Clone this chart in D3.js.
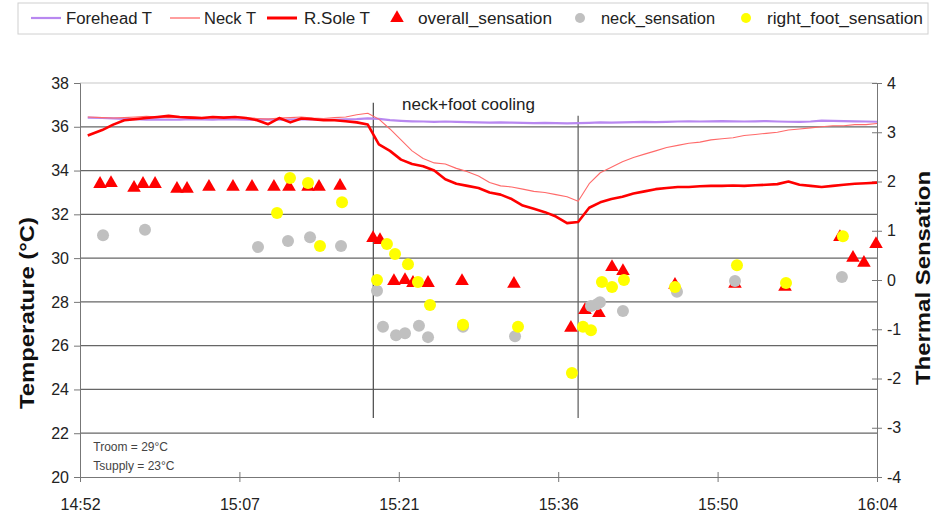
<!DOCTYPE html>
<html>
<head>
<meta charset="utf-8">
<script src="https://cdn.jsdelivr.net/npm/d3@7"></script>
<style>
  html, body { margin: 0; padding: 0; background: #fff; }
  svg { display: block; font-family: "Liberation Sans", Arial, sans-serif; }
</style>
</head>
<body>
<svg id="chart" width="938" height="519"></svg>
<script>
// ---- DATA (time in minutes after 14:52) ----
const xTickMinutes = [0, 14.4, 28.8, 43.2, 57.6, 72];
const xTickLabels = ["14:52", "15:07", "15:21", "15:36", "15:50", "16:04"];
const tempTicks = [20, 22, 24, 26, 28, 30, 32, 34, 36, 38];
const sensTicks = [-4, -3, -2, -1, 0, 1, 2, 3, 4];

const timeMin = [0.7, 2, 3, 4, 5, 6, 7, 8, 9, 10,
  11, 12, 13, 14, 15, 16, 17, 18, 19, 20,
  21, 22, 23, 24, 25, 26, 27, 28, 29, 30,
  31, 32, 33, 34, 35, 36, 37, 38, 39, 40,
  41, 42, 43, 44, 45, 46, 47, 48, 49, 50,
  51, 52, 53, 54, 55, 56, 57, 58, 59, 60,
  61, 62, 63, 64, 65, 66, 67, 68, 69, 70, 71, 72];

const foreheadT = [36.42, 36.40, 36.38, 36.36, 36.35, 36.33, 36.34, 36.32, 36.33, 36.35,
  36.34, 36.33, 36.35, 36.34, 36.32, 36.33, 36.34, 36.32, 36.33, 36.35,
  36.34, 36.33, 36.32, 36.34, 36.35, 36.38, 36.36, 36.30, 36.27, 36.25,
  36.24, 36.22, 36.24, 36.22, 36.21, 36.20, 36.19, 36.20, 36.19, 36.18,
  36.17, 36.18, 36.17, 36.16, 36.17, 36.18, 36.20, 36.19, 36.20, 36.21,
  36.22, 36.21, 36.22, 36.24, 36.25, 36.24, 36.25, 36.26, 36.25, 36.24,
  36.25, 36.26, 36.24, 36.23, 36.22, 36.24, 36.28, 36.27, 36.26, 36.25, 36.24, 36.23];

const neckT = [36.45, 36.42, 36.40, 36.42, 36.45, 36.48, 36.45, 36.42, 36.44, 36.46,
  36.42, 36.40, 36.43, 36.45, 36.42, 36.38, 36.35, 36.40, 36.42, 36.45,
  36.40, 36.38, 36.42, 36.45, 36.55, 36.62, 36.35, 35.90, 35.40, 34.90,
  34.55, 34.35, 34.30, 34.10, 33.95, 33.75, 33.45, 33.30, 33.25, 33.15,
  33.05, 33.00, 32.90, 32.80, 32.60, 33.40, 33.90, 34.15, 34.40, 34.60,
  34.75, 34.90, 35.05, 35.15, 35.25, 35.30, 35.40, 35.45, 35.50, 35.60,
  35.65, 35.70, 35.75, 35.85, 35.90, 35.95, 36.00, 36.05, 36.05, 36.10, 36.10, 36.15];

const rSoleT = [35.60, 35.85, 36.10, 36.30, 36.35, 36.40, 36.45, 36.50, 36.45, 36.42,
  36.40, 36.45, 36.42, 36.45, 36.40, 36.30, 36.12, 36.40, 36.20, 36.38,
  36.35, 36.30, 36.30, 36.25, 36.20, 36.10, 35.20, 34.90, 34.50, 34.30,
  34.20, 34.00, 33.60, 33.40, 33.30, 33.20, 33.00, 32.90, 32.70, 32.40,
  32.25, 32.10, 31.90, 31.60, 31.65, 32.30, 32.55, 32.70, 32.80, 32.95,
  33.05, 33.15, 33.20, 33.25, 33.25, 33.28, 33.30, 33.30, 33.32, 33.30,
  33.33, 33.35, 33.38, 33.50, 33.35, 33.30, 33.25, 33.30, 33.35, 33.40, 33.42, 33.45];

const overallTime = [1.81, 2.80, 4.88, 5.69, 6.78, 8.76, 9.67, 11.65, 13.82, 15.54, 17.52, 18.88, 20.60, 21.59, 23.49,
  26.47, 27.10, 28.36, 29.36, 30.08, 31.44, 34.51, 39.20, 44.35, 45.62, 46.88, 48.06, 49.05, 53.75, 59.17, 63.69,
  68.65, 69.83, 70.82, 71.91];
const overallSens = [1.95, 1.97, 1.87, 1.95, 1.95, 1.85, 1.85, 1.89, 1.89, 1.89, 1.89, 1.89, 1.89, 1.89, 1.91,
  0.85, 0.81, -0.02, 0.00, -0.06, -0.06, -0.02, -0.08, -0.97, -0.61, -0.67, 0.26, 0.18, -0.10, -0.08, -0.14,
  0.87, 0.45, 0.35, 0.73];

const neckTime = [2.08, 5.87, 16.08, 18.79, 20.78, 23.58, 26.83, 27.37, 28.55, 29.36, 30.62, 31.44, 34.60, 39.30,
  46.16, 46.70, 46.97, 49.05, 53.93, 59.17, 68.83];
const neckSens = [0.91, 1.02, 0.67, 0.79, 0.87, 0.69, -0.22, -0.95, -1.12, -1.08, -0.93, -1.16, -0.95, -1.14,
  -0.53, -0.49, -0.45, -0.63, -0.24, -0.02, 0.06];

const footTime = [17.80, 18.97, 20.60, 21.68, 23.67, 26.83, 27.73, 28.46, 29.63, 30.53, 31.62, 34.60, 39.57, 44.44,
  45.44, 46.16, 47.15, 48.06, 49.14, 53.75, 59.35, 63.78, 68.92];
const footSens = [1.36, 2.07, 1.97, 0.69, 1.58, 0.00, 0.73, 0.53, 0.32, -0.04, -0.51, -0.91, -0.95, -1.89,
  -0.95, -1.02, -0.04, -0.14, 0.00, -0.14, 0.30, -0.06, 0.89];

const legendLabels = ["Forehead T", "Neck T", "R.Sole T", "overall_sensation", "neck_sensation", "right_foot_sensation"];

// ---- STYLE ----
const C = { forehead: "#b888f0", neck: "#ff6a6a", sole: "#ff0000", tri: "#ff0000", grey: "#c0c0c0", yellow: "#ffff00" };

const svg = d3.select("#chart");
const W = 938, H = 519;
const m = { left: 80, right: 61, top: 83, bottom: 42 };
const x = d3.scaleLinear().domain([0, 72]).range([m.left, W - m.right]);
const yT = d3.scaleLinear().domain([20, 38]).range([H - m.bottom, m.top]);
const yS = d3.scaleLinear().domain([-4, 4]).range([H - m.bottom, m.top]);

svg.append("rect").attr("width", W).attr("height", H).attr("fill", "#fff");

// gridlines
svg.append("g").selectAll("line").data(tempTicks.filter(d => d > 20))
  .join("line")
  .attr("x1", x(0)).attr("x2", x(72))
  .attr("y1", d => yT(d)).attr("y2", d => yT(d))
  .attr("stroke", d => d === 38 ? "#c8c8c8" : "#666")
  .attr("stroke-width", 1.2);

// left axis
const gL = svg.append("g").attr("transform", `translate(${x(0)},0)`)
  .call(d3.axisLeft(yT).tickValues(tempTicks).tickSize(6).tickPadding(5).tickFormat(d3.format("d")));
gL.select(".domain").attr("stroke", "#777");
gL.selectAll(".tick line").attr("stroke", "#777");
gL.selectAll("text").attr("font-size", 16).attr("fill", "#222").attr("font-family", "Liberation Sans, Arial, sans-serif");

// right axis
const gR = svg.append("g").attr("transform", `translate(${x(72)},0)`)
  .call(d3.axisRight(yS).tickValues(sensTicks).tickSize(5).tickPadding(5).tickFormat(d3.format("d")));
gR.select(".domain").attr("stroke", "#777");
gR.selectAll(".tick line").attr("stroke", "#777").attr("x1", -5);
gR.selectAll("text").attr("font-size", 16).attr("fill", "#222").attr("font-family", "Liberation Sans, Arial, sans-serif")
  .text(d => d < 0 ? "-" + Math.abs(d) : d);

// bottom axis
const gB = svg.append("g").attr("transform", `translate(0,${yT(20)})`)
  .call(d3.axisBottom(x).tickValues(xTickMinutes).tickSize(5).tickPadding(17)
    .tickFormat((d, i) => xTickLabels[i]));
gB.select(".domain").attr("stroke", "#777");
gB.selectAll(".tick line").attr("stroke", "#777").attr("y1", -5);
gB.selectAll("text").attr("font-size", 16).attr("fill", "#222").attr("font-family", "Liberation Sans, Arial, sans-serif");

// axis titles
svg.append("text")
  .attr("transform", `translate(34,313) rotate(-90)`)
  .attr("text-anchor", "middle").attr("font-weight", "bold").attr("font-size", 20).attr("fill", "#111")
  .attr("textLength", 192).attr("lengthAdjust", "spacingAndGlyphs")
  .text("Temperature (°C)");
svg.append("text")
  .attr("transform", `translate(930,278) rotate(-90)`)
  .attr("text-anchor", "middle").attr("font-weight", "bold").attr("font-size", 20).attr("fill", "#111")
  .attr("textLength", 214).attr("lengthAdjust", "spacingAndGlyphs")
  .text("Thermal Sensation");

// event lines
svg.append("line").attr("x1", x(26.5)).attr("x2", x(26.5)).attr("y1", yT(37.1)).attr("y2", yT(22.7))
  .attr("stroke", "#555").attr("stroke-width", 1.3);
svg.append("line").attr("x1", x(45.0)).attr("x2", x(45.0)).attr("y1", yT(36.5)).attr("y2", yT(22.7))
  .attr("stroke", "#666").attr("stroke-width", 1.3);
svg.append("text").attr("x", x(29.1)).attr("y", yT(36.75)).attr("font-size", 17).attr("fill", "#222")
  .text("neck+foot cooling");
svg.append("text").attr("x", x(1.2)).attr("y", yT(21.2)).attr("font-size", 12).attr("fill", "#444").text("Troom = 29°C");
svg.append("text").attr("x", x(1.2)).attr("y", yT(20.3)).attr("font-size", 12).attr("fill", "#444").text("Tsupply = 23°C");

// temperature lines
const lineT = d3.line().x(d => x(d[0])).y(d => yT(d[1]));
const series = [
  { vals: foreheadT, color: C.forehead, w: 2.2 },
  { vals: neckT, color: C.neck, w: 1.1 },
  { vals: rSoleT, color: C.sole, w: 2.6 }
];
series.forEach(s => {
  svg.append("path").datum(timeMin.map((t, i) => [t, s.vals[i]]))
    .attr("d", lineT).attr("fill", "none").attr("stroke", s.color)
    .attr("stroke-width", s.w).attr("stroke-linejoin", "round");
});

// sensation markers
const tri = d3.symbol().type(d3.symbolTriangle).size(80);
svg.append("g").selectAll("path").data(overallTime.map((t, i) => [t, overallSens[i]]))
  .join("path").attr("d", tri)
  .attr("transform", d => `translate(${x(d[0])},${yS(d[1])})`)
  .attr("fill", C.tri);
svg.append("g").selectAll("circle").data(neckTime.map((t, i) => [t, neckSens[i]]))
  .join("circle").attr("cx", d => x(d[0])).attr("cy", d => yS(d[1])).attr("r", 6)
  .attr("fill", C.grey);
svg.append("g").selectAll("circle").data(footTime.map((t, i) => [t, footSens[i]]))
  .join("circle").attr("cx", d => x(d[0])).attr("cy", d => yS(d[1])).attr("r", 6)
  .attr("fill", C.yellow);

// legend
const lg = svg.append("g");
lg.append("rect").attr("x", 18).attr("y", 3).attr("width", 910).attr("height", 31)
  .attr("fill", "#fff").attr("stroke", "#d0d0d0");
const ly = 18;
const legendX = [
  { sx: 31, tx: 66 }, { sx: 170, tx: 204 }, { sx: 267, tx: 304 },
  { sx: 397, tx: 418 }, { sx: 580, tx: 601 }, { sx: 746, tx: 767 }
];
const legendW = [86, 52, 66, 134, 114, 156];
[C.forehead, C.neck, C.sole].forEach((c, i) => {
  lg.append("line").attr("x1", legendX[i].sx).attr("x2", legendX[i].sx + 30).attr("y1", ly).attr("y2", ly)
    .attr("stroke", c).attr("stroke-width", [2.2, 1.3, 3][i]);
});
lg.append("path").attr("d", tri).attr("transform", `translate(${legendX[3].sx},${ly})`).attr("fill", C.tri);
lg.append("circle").attr("cx", legendX[4].sx).attr("cy", ly).attr("r", 5).attr("fill", C.grey);
lg.append("circle").attr("cx", legendX[5].sx).attr("cy", ly).attr("r", 5).attr("fill", C.yellow);
legendLabels.forEach((t, i) => {
  lg.append("text").attr("x", legendX[i].tx).attr("y", ly + 6).attr("font-size", 16).attr("fill", "#222")
    .attr("textLength", legendW[i]).attr("lengthAdjust", "spacingAndGlyphs").text(t);
});
</script>
</body>
</html>
